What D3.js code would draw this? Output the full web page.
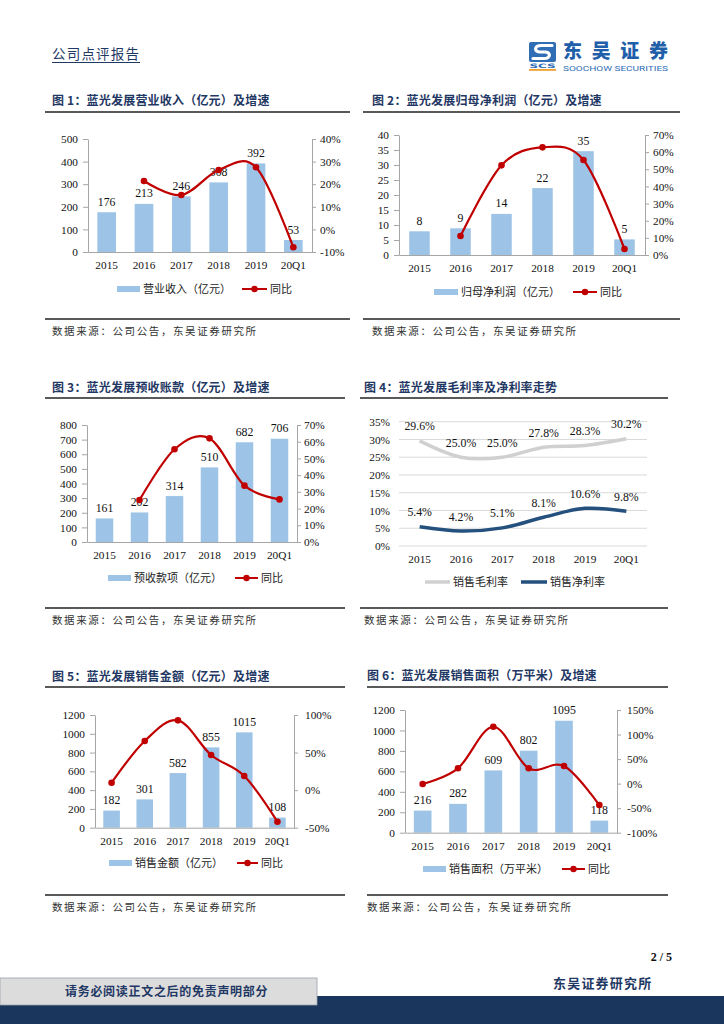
<!DOCTYPE html>
<html>
<head>
<meta charset="utf-8">
<script src="https://cdn.jsdelivr.net/npm/d3@7"></script>
<style>
body { margin: 0; background: #fff; }
svg text { font-family: "Liberation Serif", "Times New Roman", serif; }
svg text.cn { font-family: "Noto Sans CJK SC", sans-serif; }
</style>
</head>
<body>
<script>
// Categories shared by every panel
const years = ["2015", "2016", "2017", "2018", "2019", "20Q1"];

// Fig 1: revenue (100m yuan) and yoy
const revenue = [176, 213, 246, 308, 392, 53];
const revenueYoy = [null, 0.214, 0.152, 0.263, 0.275, -0.079];

// Fig 2: net profit attributable to parent
const netProfit = [7.9, 8.9, 13.7, 22.3, 34.6, 5.2];
const netProfitYoy = [null, 0.111, 0.523, 0.628, 0.554, 0.035];

// Fig 3: advance receipts
const advance = [161, 202, 314, 510, 682, 706];
const advanceYoy = [null, 0.251, 0.555, 0.62, 0.337, 0.255];

// Fig 4: margins
const grossMargin = [0.296, 0.250, 0.250, 0.278, 0.283, 0.302];
const netMargin = [0.054, 0.042, 0.051, 0.081, 0.106, 0.098];

// Fig 5: contracted sales amount
const salesAmount = [182, 301, 582, 855, 1015, 108];
const salesAmountYoy = [0.099, 0.654, 0.929, 0.468, 0.188, -0.42];

// Fig 6: contracted sales area (10k sqm)
const salesArea = [216, 282, 609, 802, 1095, 118];
const salesAreaYoy = [-0.008, 0.312, 1.159, 0.312, 0.358, -0.436];

const navy = "#1f3864";
const barBlue = "#9dc3e6";
const red = "#c00000";
const axisGray = "#a6a6a6";
const pct = d => Math.round(d * 100) + "%";

const svg = d3.select("body").append("svg")
    .attr("width", 724)
    .attr("height", 1024);

// ---- page header ----
svg.append("text").attr("class", "cn")
    .attr("x", 52).attr("y", 59)
    .attr("font-size", 13.5).attr("letter-spacing", 1.2)
    .attr("fill", "#1f3864")
    .text("公司点评报告");
svg.append("line")
    .attr("x1", 52).attr("x2", 140).attr("y1", 62.5).attr("y2", 62.5)
    .attr("stroke", navy).attr("stroke-width", 1);

// logo
const logo = svg.append("g");
logo.append("rect").attr("x", 529).attr("y", 42).attr("width", 27).attr("height", 20).attr("rx", 2)
    .attr("fill", "#2f6db5");
logo.append("path")
    .attr("d", "M552,45.5 L541,45.5 C534,45.5 534,52 540,52 L545,52 C551,52 551,58.5 544,58.5 L533,58.5")
    .attr("fill", "none").attr("stroke", "#fff").attr("stroke-width", 3.2).attr("stroke-linecap", "round");
logo.append("text").attr("x", 542.5).attr("y", 68).attr("text-anchor", "middle")
    .attr("font-size", 6).attr("font-weight", "bold").attr("fill", "#2f6db5")
    .attr("textLength", 26).attr("lengthAdjust", "spacingAndGlyphs")
    .attr("style", "font-family:'DejaVu Sans',sans-serif").text("SCS");
logo.append("rect").attr("x", 529).attr("y", 69).attr("width", 27).attr("height", 1.8).attr("fill", "#f0a030");
logo.append("text").attr("class", "cn")
    .attr("x", 563).attr("y", 58)
    .attr("font-size", 19).attr("font-weight", 900)
    .attr("textLength", 105).attr("lengthAdjust", "spacing")
    .attr("fill", "#1f5faa").text("东吴证券");
logo.append("text")
    .attr("x", 563).attr("y", 71)
    .attr("font-size", 8).attr("textLength", 105).attr("lengthAdjust", "spacingAndGlyphs")
    .attr("fill", "#2f6db5").attr("style", "font-family:Roboto,sans-serif")
    .text("SOOCHOW SECURITIES");

// ---- panel frame: title, rules, source ----
function frame(p) {
    svg.append("text").attr("class", "cn")
        .attr("x", p.tx).attr("y", p.titleY + 4.5)
        .attr("font-size", 12).attr("font-weight", "bold").attr("letter-spacing", 0.2)
        .attr("fill", navy).text(p.title);
    svg.append("line")
        .attr("x1", p.rx0).attr("x2", p.rx1).attr("y1", p.ruleTop).attr("y2", p.ruleTop)
        .attr("stroke", "#222").attr("stroke-width", 1.5);
    svg.append("line")
        .attr("x1", p.rx0).attr("x2", p.rx1).attr("y1", p.ruleBot).attr("y2", p.ruleBot)
        .attr("stroke", "#222").attr("stroke-width", 1.5);
    svg.append("text").attr("class", "cn")
        .attr("x", p.tx).attr("y", p.ruleBot + 15.5)
        .attr("font-size", 10.5).attr("letter-spacing", 1.6)
        .attr("fill", "#333").text("数据来源：公司公告，东吴证券研究所");
}

function legendItems(y, items) {
    items.forEach(it => {
        const g = svg.append("g");
        if (it.type === "bar") {
            g.append("rect").attr("x", it.x0).attr("y", y - 3).attr("width", it.x1 - it.x0).attr("height", 6)
                .attr("fill", it.color);
        } else {
            g.append("line").attr("x1", it.x0).attr("x2", it.x1).attr("y1", y).attr("y2", y)
                .attr("stroke", it.color).attr("stroke-width", it.width || 2);
            if (it.dot) {
                g.append("circle").attr("cx", (it.x0 + it.x1) / 2).attr("cy", y).attr("r", 3.2).attr("fill", it.color);
            }
        }
        g.append("text").attr("class", "cn")
            .attr("x", it.x1 + 3).attr("y", y).attr("dy", "0.36em")
            .attr("font-size", 11).attr("fill", "#222").text(it.label);
    });
}

function styleAxis(g) {
    g.select(".domain").attr("stroke", axisGray);
    g.selectAll(".tick line").attr("stroke", axisGray);
    g.selectAll(".tick text").attr("font-size", 11.3).attr("fill", "#111")
        .attr("style", "font-family:'Liberation Serif',serif");
}

// ---- bar + yoy line chart ----
function comboChart(o) {
    const x = d3.scaleBand().domain(years).range([o.left, o.right])
        .paddingInner(0.5).paddingOuter(0.25);
    const yL = d3.scaleLinear().domain(o.lDomain).range([o.bottom, o.top]);
    const yR = d3.scaleLinear().domain(o.rDomain).range([o.bottom, o.top]);

    svg.append("g")
        .attr("transform", `translate(${o.left},0)`)
        .call(d3.axisLeft(yL).tickValues(o.lTicks).tickFormat(d3.format("d"))
            .tickSize(5).tickPadding(5).tickSizeOuter(0))
        .call(styleAxis);
    svg.append("g")
        .attr("transform", `translate(${o.right},0)`)
        .call(d3.axisRight(yR).tickValues(o.rTicks).tickFormat(pct).tickSize(4).tickPadding(o.rPad).tickSizeOuter(0))
        .call(styleAxis);

    svg.selectAll(null)
        .data(o.bars)
        .enter()
        .append("rect")
        .attr("x", (d, i) => x(years[i]))
        .attr("y", d => yL(d))
        .attr("width", x.bandwidth())
        .attr("height", d => o.bottom - yL(d))
        .attr("fill", barBlue);

    svg.append("g")
        .attr("transform", `translate(0,${o.bottom})`)
        .call(d3.axisBottom(x).tickSize(0).tickPadding(9).tickSizeOuter(0))
        .call(styleAxis);

    svg.selectAll(null)
        .data(o.bars)
        .enter()
        .append("text")
        .attr("x", (d, i) => x(years[i]) + x.bandwidth() / 2)
        .attr("y", d => yL(d) - 6.5)
        .attr("text-anchor", "middle")
        .attr("font-size", 11.8).attr("fill", "#111")
        .text(d => d3.format(".0f")(d));

    const line = d3.line()
        .defined(d => d != null)
        .x((d, i) => x(years[i]) + x.bandwidth() / 2)
        .y(d => yR(d))
        .curve(d3.curveCardinal.tension(0));
    svg.append("path")
        .datum(o.yoy)
        .attr("d", line)
        .attr("fill", "none")
        .attr("stroke", red)
        .attr("stroke-width", 2.2);
    svg.selectAll(null)
        .data(o.yoy.map((v, i) => ({v, i})).filter(d => d.v != null))
        .enter()
        .append("circle")
        .attr("cx", d => x(years[d.i]) + x.bandwidth() / 2)
        .attr("cy", d => yR(d.v))
        .attr("r", 3.3)
        .attr("fill", red);

    legendItems(o.legendY, [
        {type: "bar", x0: o.lg[0], x1: o.lg[1], color: barBlue, label: o.barLabel},
        {type: "line", x0: o.lg[2], x1: o.lg[3], color: red, dot: true, label: "同比"}
    ]);
}

// ---- margin chart ----
function marginChart(o) {
    const x = d3.scaleBand().domain(years).range([o.left, o.right]);
    const y = d3.scaleLinear().domain([0, 0.35]).range([o.bottom, o.top]);
    const ticks = d3.range(0, 0.351, 0.05);

    svg.append("g")
        .selectAll("line")
        .data(ticks)
        .enter()
        .append("line")
        .attr("x1", o.left).attr("x2", o.right)
        .attr("y1", d => y(d)).attr("y2", d => y(d))
        .attr("stroke", "#d9d9d9").attr("stroke-width", 1);

    svg.append("g")
        .attr("transform", `translate(${o.left},0)`)
        .call(d3.axisLeft(y).tickValues(ticks).tickFormat(pct).tickSize(0).tickPadding(9))
        .call(styleAxis)
        .call(g => g.select(".domain").remove());
    svg.append("g")
        .attr("transform", `translate(0,${o.bottom})`)
        .call(d3.axisBottom(x).tickSize(0).tickPadding(9))
        .call(styleAxis)
        .call(g => g.select(".domain").remove());

    const cx = i => x(years[i]) + x.bandwidth() / 2;
    const line = d3.line().x((d, i) => cx(i)).y(d => y(d)).curve(d3.curveCardinal.tension(0));
    [[grossMargin, "#d0d0d0"], [netMargin, "#24507e"]].forEach(([vals, col]) => {
        svg.append("path").datum(vals).attr("d", line)
            .attr("fill", "none").attr("stroke", col).attr("stroke-width", 3.5);
        svg.selectAll(null)
            .data(vals)
            .enter()
            .append("text")
            .attr("x", (d, i) => cx(i))
            .attr("y", d => y(d) - 10.5)
            .attr("text-anchor", "middle")
            .attr("font-size", 11.8).attr("fill", "#111")
            .text(d => d3.format(".1%")(d));
    });

    legendItems(o.legendY, [
        {type: "line", x0: 425, x1: 450, color: "#d0d0d0", width: 3.5, label: "销售毛利率"},
        {type: "line", x0: 521, x1: 547, color: "#24507e", width: 3.5, label: "销售净利率"}
    ]);
}

// Fig 1
frame({tx: 52, titleY: 100, rx0: 45, rx1: 350, ruleTop: 112, ruleBot: 319,
       title: "图 1：蓝光发展营业收入（亿元）及增速"});
comboChart({left: 88, right: 312, top: 139, bottom: 252,
    lDomain: [0, 500], lTicks: d3.range(0, 501, 100),
    rDomain: [-0.1, 0.4], rTicks: [-0.1, 0, 0.1, 0.2, 0.3, 0.4], rPad: 4,
    bars: revenue, yoy: revenueYoy,
    legendY: 289, lg: [117, 140, 242, 267], barLabel: "营业收入（亿元）"});

// Fig 2
frame({tx: 372, titleY: 100, rx0: 363, rx1: 680, ruleTop: 112, ruleBot: 319,
       title: "图 2：蓝光发展归母净利润（亿元）及增速"});
comboChart({left: 399, right: 645, top: 135, bottom: 255,
    lDomain: [0, 40], lTicks: d3.range(0, 41, 5),
    rDomain: [0, 0.7], rTicks: [0, 0.1, 0.2, 0.3, 0.4, 0.5, 0.6, 0.7], rPad: 4,
    bars: netProfit, yoy: netProfitYoy,
    legendY: 292, lg: [434, 458, 573, 597], barLabel: "归母净利润（亿元）"});

// Fig 3
frame({tx: 52, titleY: 387, rx0: 45, rx1: 345, ruleTop: 398, ruleBot: 608,
       title: "图 3：蓝光发展预收账款（亿元）及增速"});
comboChart({left: 87, right: 297, top: 425, bottom: 542,
    lDomain: [0, 800], lTicks: d3.range(0, 801, 100),
    rDomain: [0, 0.7], rTicks: [0, 0.1, 0.2, 0.3, 0.4, 0.5, 0.6, 0.7], rPad: 3,
    bars: advance, yoy: advanceYoy,
    legendY: 578, lg: [108, 131, 235, 258], barLabel: "预收款项（亿元）"});

// Fig 4
frame({tx: 364, titleY: 387, rx0: 360, rx1: 668, ruleTop: 398, ruleBot: 608,
       title: "图 4：蓝光发展毛利率及净利率走势"});
marginChart({left: 399, right: 647, top: 421.7, bottom: 546, legendY: 582});

// Fig 5
frame({tx: 52, titleY: 676, rx0: 45, rx1: 345, ruleTop: 687, ruleBot: 895,
       title: "图 5：蓝光发展销售金额（亿元）及增速"});
comboChart({left: 95, right: 294, top: 715, bottom: 827.7,
    lDomain: [0, 1200], lTicks: d3.range(0, 1201, 200),
    rDomain: [-0.5, 1], rTicks: [-0.5, 0, 0.5, 1], rPad: 7,
    bars: salesAmount, yoy: salesAmountYoy,
    legendY: 863, lg: [109, 132, 237, 258], barLabel: "销售金额（亿元）"});

// Fig 6
frame({tx: 367, titleY: 675, rx0: 367, rx1: 668, ruleTop: 687, ruleBot: 895,
       title: "图 6：蓝光发展销售面积（万平米）及增速"});
comboChart({left: 405, right: 617, top: 710, bottom: 832.7,
    lDomain: [0, 1200], lTicks: d3.range(0, 1201, 200),
    rDomain: [-1, 1.5], rTicks: [-1, -0.5, 0, 0.5, 1, 1.5], rPad: 6,
    bars: salesArea, yoy: salesAreaYoy,
    legendY: 869, lg: [423, 446, 562, 585], barLabel: "销售面积（万平米）"});

// ---- page footer ----
svg.append("text")
    .attr("x", 672).attr("y", 961).attr("text-anchor", "end")
    .attr("font-size", 12).attr("font-weight", "bold").attr("fill", "#111")
    .text("2 / 5");
svg.append("rect").attr("x", 0).attr("y", 996).attr("width", 724).attr("height", 28).attr("fill", "#1a365d");
svg.append("rect").attr("x", 0).attr("y", 978).attr("width", 317).attr("height", 27)
    .attr("fill", "#dcdcdc").attr("stroke", "#9aa3ad").attr("stroke-width", 0.8);
svg.append("text").attr("class", "cn")
    .attr("x", 65).attr("y", 996)
    .attr("font-size", 12).attr("font-weight", "bold").attr("letter-spacing", 0.7)
    .attr("fill", navy).text("请务必阅读正文之后的免责声明部分");
svg.append("text").attr("class", "cn")
    .attr("x", 553).attr("y", 988)
    .attr("font-size", 13).attr("font-weight", "bold").attr("letter-spacing", 1.2)
    .attr("fill", navy).text("东吴证券研究所");
</script>
</body>
</html>
